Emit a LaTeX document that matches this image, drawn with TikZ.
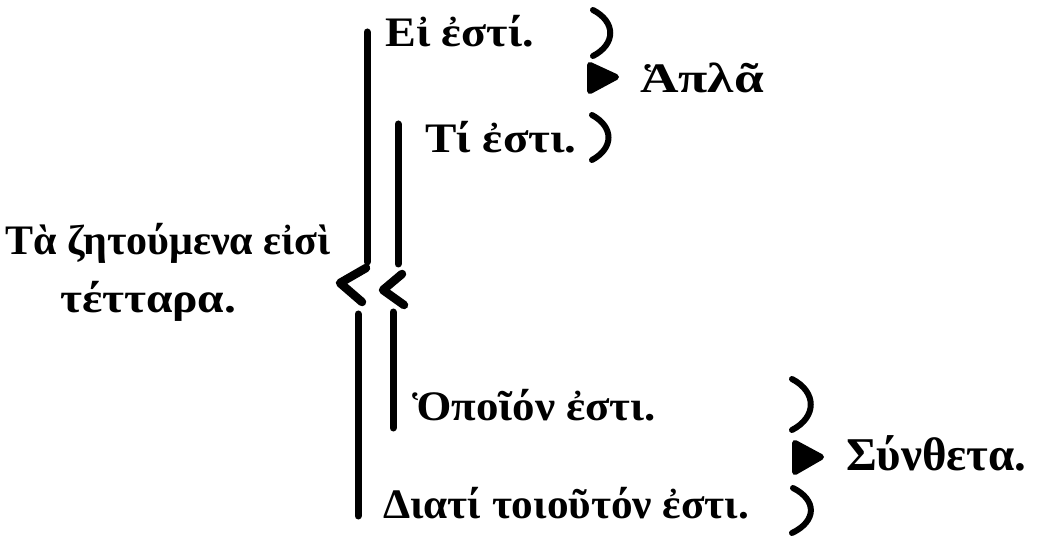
\documentclass[tikz,border=0pt]{standalone}
\usepackage{fontspec}
\setmainfont{Liberation Serif}
\newcommand{\hs}[2]{\scalebox{#1}[1]{#2}}
\begin{document}
\begin{tikzpicture}[x=1pt,y=-1pt,
  lbl/.style={anchor=base west,inner sep=0pt,font=\bfseries\fontsize{42}{44}\selectfont},
  big/.style={lbl,font=\bfseries\fontsize{47}{50}\selectfont},
  bar/.style={line width=7pt,line cap=round},
  chev/.style={line width=8.5pt,line join=round,line cap=round},
  paren/.style={line width=6pt,line cap=round},
  ptr/.style={line width=6pt,line join=round,line cap=round,fill=black}]
\useasboundingbox (0,0) rectangle (1039,537);
% texts
\node[lbl] (q1) at (5,255) {Τὰ ζητούμενα εἰσὶ};
\node[lbl] (q2) at (60,313) {\hs{1.13}{τέτταρα.}};
\node[lbl] (e1) at (385,47) {\hs{1.10}{Εἰ ἐστί.}};
\node[lbl] (e2) at (425,153) {\hs{1.12}{Τί ἐστι.}};
\node[lbl] (e3) at (412,420) {\hs{1.07}{Ὁποῖόν ἐστι.}};
\node[lbl] (e4) at (383,518) {\hs{1.03}{Διατί τοιοῦτόν ἐστι.}};
\node[lbl] (ha) at (640,93) {\hs{1.27}{Ἁπλᾶ}};
\node[big] (sy) at (846,470) {Σύνθετα.};
% outer bracket
\coordinate (ot) at (367,32);
\coordinate (ob) at (367,262);
\coordinate (oa) at (366,268);
\coordinate (ox) at (340,283);
\coordinate (oc) at (362,302);
\coordinate (lt) at (358,314);
\coordinate (lb) at (358,516);
\draw[bar] (ot) -- (ob);
\draw[chev] (oa) -- (ox) -- (oc);
\draw[bar] (lt) -- (lb);
% inner bracket
\coordinate (it) at (398,124);
\coordinate (ib) at (398,264);
\coordinate (ia) at (402,274);
\coordinate (ix) at (383,290);
\coordinate (ic) at (404,305);
\coordinate (jt) at (393,312);
\coordinate (jb) at (393,428);
\draw[bar] (it) -- (ib);
\draw[chev] (ia) -- (ix) -- (ic);
\draw[bar] (jt) -- (jb);
% upper brace
\coordinate (p1a) at (593,10);
\coordinate (p1b) at (593,56);
\draw[paren] (p1a) .. controls (616,22) and (616,44) .. (p1b);
\coordinate (p2a) at (592,115);
\coordinate (p2b) at (592,160);
\draw[paren] (p2a) .. controls (614,127) and (614,148) .. (p2b);
\coordinate (g1a) at (590,65);
\coordinate (g1t) at (616,77);
\coordinate (g1b) at (590,91);
\draw[ptr] (g1a) -- (g1t) -- (g1b) -- cycle;
% lower brace
\coordinate (p3a) at (792,379);
\coordinate (p3b) at (792,430);
\draw[paren] (p3a) .. controls (817,392) and (817,417) .. (p3b);
\coordinate (p4a) at (793,488);
\coordinate (p4b) at (792,533);
\draw[paren] (p4a) .. controls (817,500) and (817,521) .. (p4b);
\coordinate (g2a) at (795,443);
\coordinate (g2t) at (821,457);
\coordinate (g2b) at (795,472);
\draw[ptr] (g2a) -- (g2t) -- (g2b) -- cycle;
\end{tikzpicture}
\end{document}
